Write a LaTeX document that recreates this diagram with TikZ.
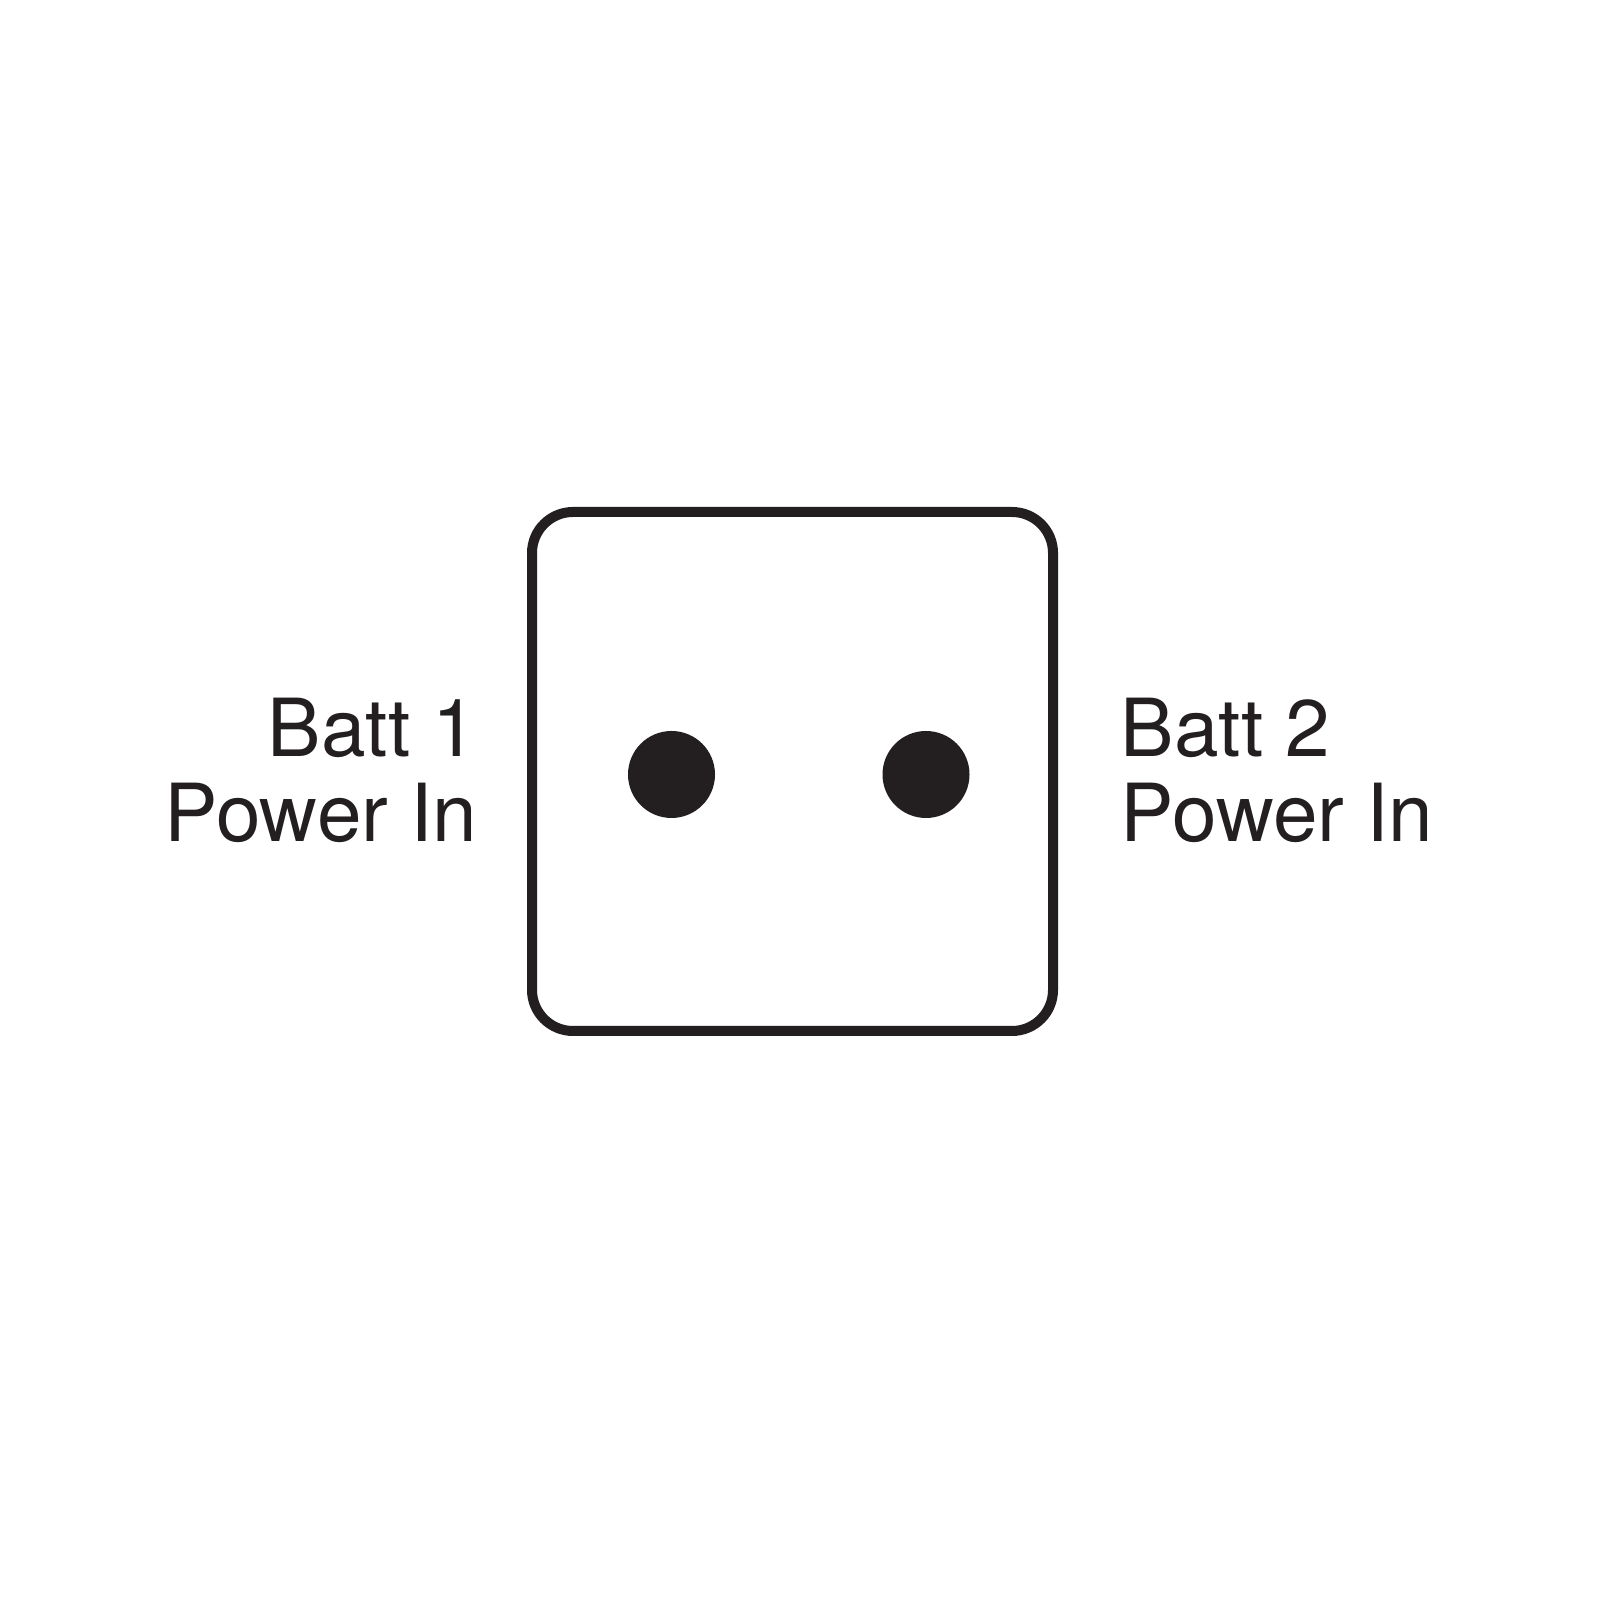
\documentclass[tikz,border=0pt]{standalone}
\usepackage{fontspec}
\setmainfont{TeX Gyre Heros}
\usepackage{tikz}
\usetikzlibrary{positioning}
\definecolor{ink}{HTML}{231F20}
\tikzstyle{Label} = [inner sep=0pt, text=ink, align=left,
    font=\fontsize{22.8pt}{24.4pt}\selectfont]
\tikzstyle{Pin} = [circle, fill=ink, draw=none, inner sep=0pt, minimum size=0.87cm]

\begin{document}
\begin{tikzpicture}[]
        \fill [white] (0,0) rectangle (16,16);
        \useasboundingbox (0,0) rectangle (16,16);
        \draw [ink, line width=0.1cm, rounded corners=0.41cm] (5.32, 5.69) rectangle (10.53, 10.88) node[pos=0.5] (Switch) {}; %switch body
        \node[Pin] (PinOne) at (6.715, 8.255) {}; %batt 1 terminal
        \node[Pin] (PinTwo) at (9.26, 8.255) {}; %batt 2 terminal
        \node[Label, align=right, anchor=north east] (BattOne) at (4.78, 9.03) {Batt 1\\Power In};
        \node[Label, anchor=north west] (BattTwo) at (11.2, 9.03) {Batt 2\\Power In};
    \end{tikzpicture}
\end{document}
